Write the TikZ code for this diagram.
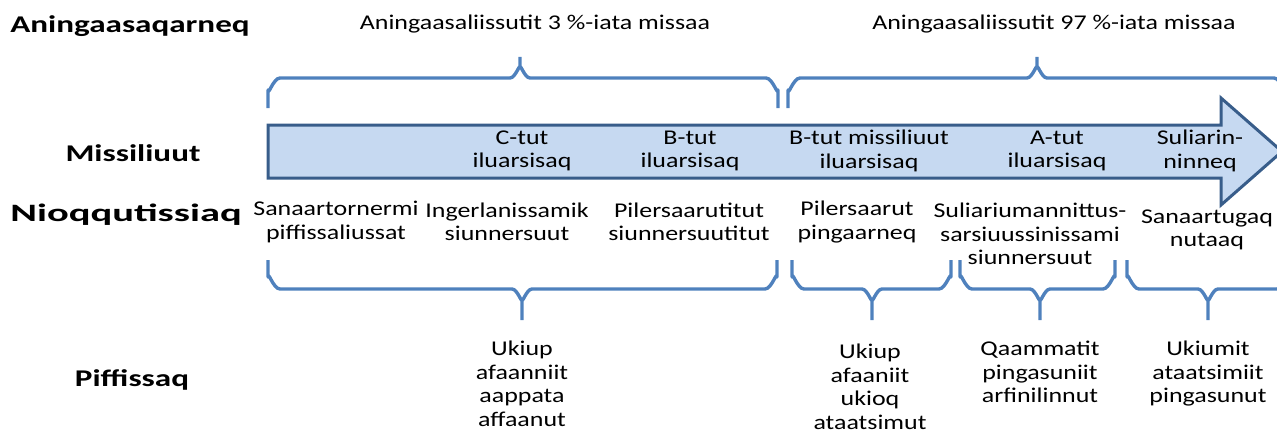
\documentclass[tikz,border=0pt]{standalone}
\usepackage{fontspec}
\setmainfont{Carlito}
\newfontfamily\regfont{Carlito}[FakeStretch=1.235]
\newfontfamily\lblfont{Carlito}[FakeStretch=1.38]
\newfontfamily\widelblfont{Carlito}[FakeStretch=1.62]
\definecolor{brace}{HTML}{4F81BD}
\definecolor{arrowfill}{HTML}{C6D9F1}
\definecolor{arrowline}{HTML}{385D8A}
\tikzset{
  txt/.style={align=center, inner sep=0pt, font=\regfont\fontsize{21}{23.5}\selectfont},
  lbl/.style={align=center, inner sep=0pt, font=\lblfont\fontsize{24}{28}\selectfont\bfseries},
  widelbl/.style={align=center, inner sep=0pt, font=\widelblfont\fontsize{25}{28}\selectfont\bfseries},
  bracestyle/.style={draw=brace, line width=3.4pt, line join=round},
}
\begin{document}
\begin{tikzpicture}[x=1pt,y=-1pt]
\useasboundingbox (0,0) rectangle (1277,436);
\clip (0,0) rectangle (1277,436);
% top braces
\draw[bracestyle] (268,108) -- (268,90) to[out=-90,in=180] (280,78) -- (510,78) to[out=0,in=90] (520,68) -- (520,57)
   (520,68) to[out=90,in=180] (530,78) -- (766,78) to[out=0,in=-90] (778,90) -- (778,108);
\draw[bracestyle] (788,108) -- (788,90) to[out=-90,in=180] (800,78) -- (1027,78) to[out=0,in=90] (1037,68) -- (1037,57)
   (1037,68) to[out=90,in=180] (1047,78) -- (1274,78) to[out=0,in=-90] (1286,90) -- (1286,108);
% arrow
\draw[fill=arrowfill, draw=arrowline, line width=3pt, line join=miter]
  (268,125) -- (1221,125) -- (1221,98) -- (1282,151.5) -- (1221,205) -- (1221,178) -- (268,178) -- cycle;
% bottom braces
\draw[bracestyle] (268,260) -- (268,277) to[out=90,in=180] (280,289) -- (512,289) to[out=0,in=-90] (522,299) -- (522,320)
   (522,299) to[out=-90,in=180] (532,289) -- (765,289) to[out=0,in=90] (777,277) -- (777,260);
\draw[bracestyle] (792,260) -- (792,277) to[out=90,in=180] (804,289) -- (862,289) to[out=0,in=-90] (872,299) -- (872,320)
   (872,299) to[out=-90,in=180] (882,289) -- (939,289) to[out=0,in=90] (951,277) -- (951,260);
\draw[bracestyle] (960,260) -- (960,277) to[out=90,in=180] (972,289) -- (1030,289) to[out=0,in=-90] (1040,299) -- (1040,320)
   (1040,299) to[out=-90,in=180] (1050,289) -- (1103,289) to[out=0,in=90] (1115,277) -- (1115,260);
\draw[bracestyle] (1127,260) -- (1127,277) to[out=90,in=180] (1139,289) -- (1198,289) to[out=0,in=-90] (1208,299) -- (1208,320)
   (1208,299) to[out=-90,in=180] (1218,289) -- (1277,289) to[out=0,in=90] (1289,277) -- (1289,260);
% labels
\node[lbl] (l1) at (130,26) {Aningaasaqarneq};
\node[lbl] (l2) at (133,153) {Missiliuut};
\node[widelbl] (l3) at (126,215) {Nioqqutissiaq};
\node[lbl] (l4) at (132,380) {Piffissaq};
% top texts
\node[txt] (t1) at (535,24) {Aningaasaliissutit 3 \%-iata missaa};
\node[txt] (t2) at (1054,24) {Aningaasaliissutit 97 \%-iata missaa};
% arrow texts
\node[txt] (a1) at (522,151) {C-tut\\iluarsisaq};
\node[txt] (a2) at (690,151) {B-tut\\iluarsisaq};
\node[txt] (a3) at (869,151) {B-tut missiliuut\\iluarsisaq};
\node[txt] (a4) at (1057,151) {A-tut\\iluarsisaq};
\node[txt] (a5) at (1200,151) {Suliarin-\\ninneq};
% product texts
\node[txt] (p1) at (336,222) {Sanaartornermi\\piffissaliussat};
\node[txt] (p2) at (507,222) {Ingerlanissamik\\siunnersuut};
\node[txt] (p3) at (689,222) {Pilersaarutitut\\siunnersuutitut};
\node[txt] (p4) at (857,222) {Pilersaarut\\pingaarneq};
\node[txt] (p5) at (1030,234) {Suliariumannittus-\\sarsiuussinissami\\siunnersuut};
\node[txt] (p6) at (1207,230) {Sanaartugaq\\nutaaq};
% time texts
\node[txt,anchor=north] (q1) at (522,341) {Ukiup\\afaanniit\\aappata\\affaanut};
\node[txt,anchor=north] (q2) at (870,344) {Ukiup\\afaaniit\\ukioq\\ataatsimut};
\node[txt,anchor=north] (q3) at (1040,341) {Qaammatit\\pingasuniit\\arfinilinnut};
\node[txt,anchor=north] (q4) at (1208,341) {Ukiumit\\ataatsimiit\\pingasunut};
\end{tikzpicture}
\end{document}
